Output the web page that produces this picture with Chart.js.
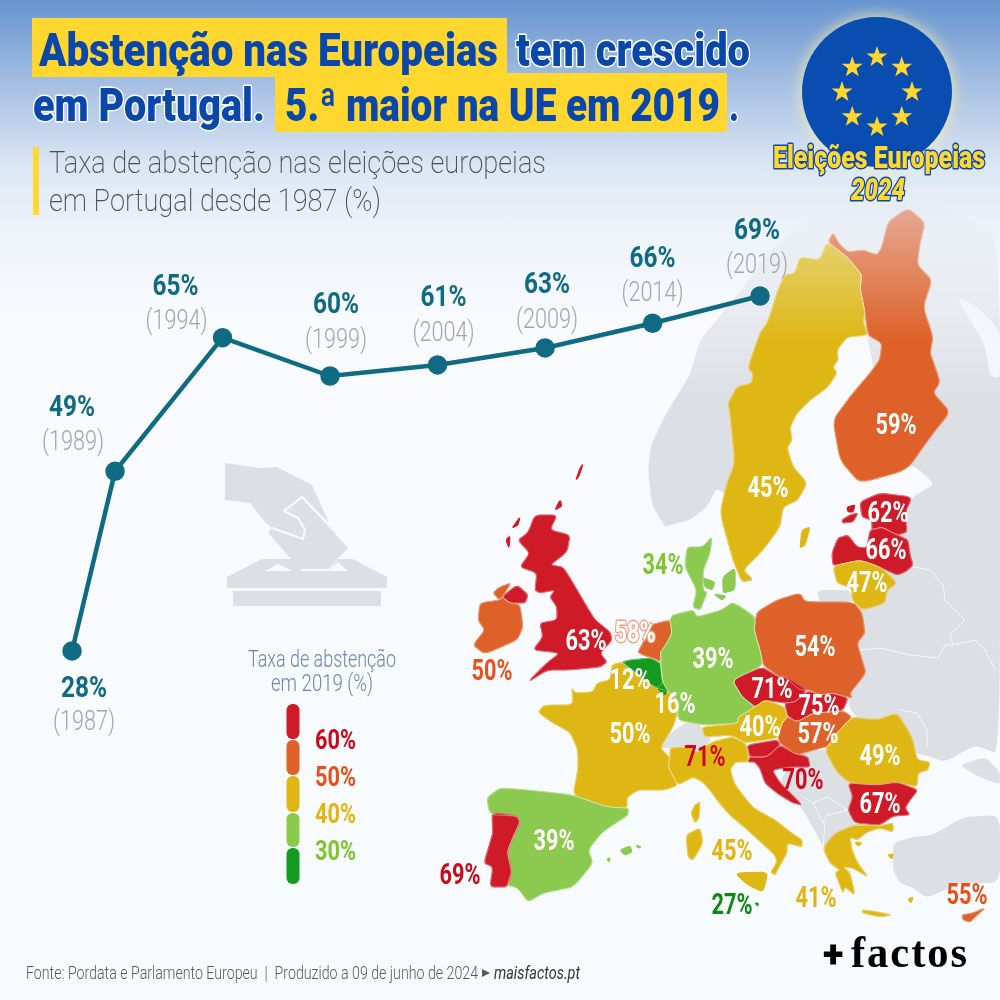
<!DOCTYPE html>
<html lang="pt">
<head>
<meta charset="utf-8">
<title>Abstenção nas Europeias</title>
<script src="https://cdn.jsdelivr.net/npm/chart.js@4"></script>
<style>
    html, body { margin: 0; padding: 0; width: 1000px; height: 1000px; overflow: hidden; }
    body { background: linear-gradient(180deg, #6694d0 0px, #a9c2e4 90px, #dbe6f4 165px, #eef3fa 230px, #f8fafe 320px, #f8fbfe 1000px); }
    canvas { display: block; }
</style>
</head>
<body>
<canvas id="chart" width="1000" height="1000"></canvas>
<script>
// Chart data
const years = [1987, 1989, 1994, 1999, 2004, 2009, 2014, 2019];
const absenceRates = [27.6, 48.7, 64.4, 59.9, 61.2, 63.2, 66.1, 69.3];
const rateLabels = ['28%', '49%', '65%', '60%', '61%', '63%', '66%', '69%'];
const yearLabels = ['(1987)', '(1989)', '(1994)', '(1999)', '(2004)', '(2009)', '(2014)', '(2019)'];

// Map data, same order in both arrays
const mapCountries = ['FI', 'SE', 'EE', 'LV', 'LT', 'PL', 'CZ', 'SK', 'HU', 'AT', 'SI', 'HR', 'RO', 'BG', 'GR', 'CY', 'IT', 'MT', 'FR', 'BE', 'LU', 'NL', 'DE', 'DK', 'UK', 'IE', 'ES', 'PT'];
const mapRates = [59, 45, 62, 66, 47, 54, 71, 75, 57, 40, 71, 70, 49, 67, 41, 55, 45, 27, 49.9, 12, 16, 58, 39, 34, 63, 50.3, 39, 69];

// Legend
const legendLabels = ['60%', '50%', '40%', '30%'];

// Colours
const TEAL = '#0f6a82';
const BLUE = '#0a47ab';
const YELLOW = '#ffd72e';
const LAND = '#dcdfe3';
const bandColors = ['#cf1a28', '#dd6129', '#dfb715', '#8bc94f', '#149a1e'];
const legendTextColors = ['#cc0a1c', '#e8501a', '#e3b30f', '#7fc52e'];
const BOLD = 'Roboto, sans-serif';
const THIN = 'Roboto, sans-serif';

// Where each value label sits relative to its point
const valueOffsets = [[12, 36], [-43, -65], [-47, -53], [6, -73], [6, -69], [2, -65], [0, -66], [-3, -67]];
const yearOffsets = [[12, 69], [-42, -31], [-46, -19], [6, -38], [6, -34], [2, -30], [0, -32], [-3, -33]];

// Country label positions and colours on the map
const mapLabelPos = {
    FI: [896, 424], SE: [768, 487], EE: [888, 512], LV: [886, 549], LT: [867, 582], PL: [815, 646],
    CZ: [772, 688], SK: [819, 705], HU: [818, 733], AT: [760, 726], SI: [705, 756], HR: [803, 779],
    RO: [880, 755], BG: [880, 803], GR: [816, 897], CY: [967, 894], IT: [732, 850], MT: [732, 904],
    FR: [630, 733], BE: [630, 679], LU: [675, 703], NL: [635, 632], DE: [713, 658], DK: [663, 564],
    UK: [586, 640], IE: [492, 670], ES: [554, 840], PT: [460, 874]
};
const mapLabelColor = {
    SI: '#cc0a1c', HR: '#cc0a1c', PT: '#cc0a1c', IE: '#e8501a', CY: '#e8501a',
    DK: '#7fc52e', GR: '#e3b30f', IT: '#e3b30f', MT: '#0a8a14'
};

// Map outlines, illustration only
const landShapes = [
    [[665,527],[652,505],[648,470],[651,445],[668,410],[690,375],[700,340],[725,310],[745,285],[770,250],[800,225],[835,210],[880,205],[925,200],[960,215],[1000,235],[1000,755],[975,745],[945,762],[925,755],[900,750],[880,740],[845,705],[860,600],[880,570],[905,520],[912,497],[935,484],[913,465],[880,470],[880,400],[860,300],[830,270],[800,350],[770,450],[740,510],[717,487],[707,507],[690,520],[670,525]],
    [[817,590],[850,590],[852,603],[820,604]],
    [[780,780],[800,750],[860,750],[865,825],[850,835],[825,850],[817,835],[802,808],[790,797]],
    [[893,843],[913,837],[933,835],[963,817],[1000,815],[1000,883],[960,883],[927,898],[913,888],[900,883],[893,870]],
    [[960,765],[985,757],[1000,772],[1000,785],[975,775]],
    [[660,748],[670,733],[687,722],[700,725],[712,740],[697,753],[687,747],[670,748]]
];
const whiteSea = [[957,298],[975,305],[1000,330],[1000,378],[990,376],[985,345],[970,320]];
// Pale borders of the countries outside the EU
const landBorders = [
    [[913,567],[930,570],[943,585],[945,600],[965,620],[950,635],[953,645],[975,640],[985,650],[995,670]],
    [[860,650],[880,648],[910,655],[938,658],[945,645],[953,645]],
    [[900,710],[917,713],[927,730],[927,747]],
    [[803,797],[813,803],[827,797],[837,803],[847,810]],
    [[813,803],[823,823],[827,815],[850,810]],
    [[825,823],[823,848]]
];
const countryShapes = {
    FI: [[[833,233],[840,245],[848,252],[863,250],[877,255],[882,247],[888,222],[908,208],[925,223],[920,243],[917,265],[932,280],[923,307],[933,337],[930,353],[935,367],[940,382],[933,393],[950,412],[933,433],[907,470],[860,483],[840,460],[833,420],[850,397],[867,377],[880,360],[882,343],[868,335],[865,313],[860,288],[862,275],[847,257],[828,242]]],
    SE: [[[827,242],[847,257],[862,275],[860,288],[865,313],[863,322],[868,335],[847,337],[837,350],[838,360],[833,367],[837,373],[828,387],[810,400],[797,413],[790,427],[792,440],[787,448],[793,467],[807,483],[798,500],[783,507],[780,527],[763,550],[743,570],[753,580],[742,582],[733,560],[720,513],[727,483],[735,463],[730,413],[728,403],[737,387],[752,383],[753,373],[748,368],[760,333],[768,322],[778,290],[785,275],[795,273],[800,257],[820,260]],
        [[802,530],[810,527],[805,545],[800,548]]],
    EE: [[[860,502],[880,493],[912,497],[905,513],[907,532],[897,535],[882,527],[872,530],[872,520],[862,517]],
        [[842,520],[850,515],[858,513],[853,522],[843,523]],
        [[847,507],[855,505],[853,512],[848,512]]],
    LV: [[[870,530],[882,527],[897,535],[908,540],[910,555],[913,565],[905,572],[897,575],[880,567],[860,560],[833,566],[832,553],[838,538],[848,535],[857,547],[867,548]]],
    LT: [[[833,566],[860,560],[880,567],[897,583],[887,590],[885,603],[863,610],[852,600],[852,588],[837,583]]],
    PL: [[[757,612],[777,600],[800,593],[805,602],[853,602],[862,613],[865,633],[857,643],[862,660],[866,673],[850,693],[852,698],[832,693],[820,695],[810,690],[800,690],[785,677],[780,677],[763,665],[760,650],[754,630]]],
    CZ: [[[732,680],[762,667],[778,677],[787,677],[807,690],[795,702],[785,703],[765,700],[755,707],[742,697]]],
    SK: [[[808,691],[820,695],[832,693],[848,698],[843,710],[830,712],[813,713],[797,722],[787,715],[785,703],[795,702]]],
    HU: [[[787,717],[797,722],[813,713],[843,711],[852,717],[837,733],[832,745],[807,752],[797,755],[780,743],[778,737],[782,723]]],
    AT: [[[738,717],[755,707],[765,700],[785,707],[787,717],[782,723],[778,738],[745,743],[732,735],[705,737],[702,727],[725,725],[738,723]]],
    SI: [[[747,745],[777,740],[780,745],[767,757],[750,757]]],
    HR: [[[767,757],[780,745],[793,753],[808,757],[810,767],[790,767],[772,770],[780,783],[802,805],[793,803],[777,793],[765,783],[760,768],[755,762],[748,762],[750,757]]],
    RO: [[[825,750],[837,733],[852,717],[877,720],[897,713],[912,737],[917,760],[930,762],[928,770],[918,773],[917,787],[897,782],[877,785],[850,783],[837,772]]],
    BG: [[[848,783],[877,785],[897,782],[918,790],[910,800],[905,808],[910,815],[893,816],[880,825],[855,823],[848,810],[853,797]]],
    GR: [[[823,848],[835,833],[855,825],[880,826],[893,823],[893,832],[880,828],[867,832],[857,840],[850,837],[852,850],[857,862],[868,877],[853,868],[843,867],[850,873],[855,895],[845,887],[843,893],[835,873],[840,870],[830,863]],
        [[862,910],[873,911],[892,915],[880,917],[863,913]],
        [[908,899],[913,897],[911,903]],
        [[888,855],[893,854],[892,859]],
        [[855,842],[862,843],[858,846]]],
    CY: [[[962,915],[973,913],[985,908],[977,915],[970,922],[963,920]]],
    IT: [[[670,758],[668,767],[678,785],[693,777],[703,782],[710,790],[717,800],[730,815],[750,832],[775,855],[777,862],[771,872],[775,875],[780,865],[787,853],[787,843],[802,847],[802,840],[790,832],[775,820],[753,808],[735,785],[730,770],[735,762],[748,762],[748,752],[745,743],[732,737],[712,742],[697,753],[687,747],[670,748]],
        [[735,873],[768,872],[763,892],[748,885]],
        [[686,835],[700,828],[703,843],[693,860],[688,857]],
        [[695,805],[700,802],[699,818],[695,823],[691,813]]],
    MT: [[[755,903],[758,903],[758,906]]],
    FR: [[[612,665],[622,662],[640,677],[655,688],[665,690],[678,700],[678,710],[673,727],[660,748],[670,758],[668,767],[678,785],[665,790],[647,790],[638,790],[627,797],[627,808],[607,807],[573,795],[578,770],[578,750],[570,732],[553,723],[538,712],[545,705],[573,705],[572,688],[575,693],[593,692],[597,683],[610,680]]],
    BE: [[[622,662],[630,660],[650,658],[660,663],[662,673],[663,683],[657,688],[648,682]]],
    LU: [[[657,688],[663,683],[667,690],[665,695]]],
    NL: [[[638,652],[643,643],[650,625],[670,620],[672,633],[667,643],[660,653],[662,662],[653,658],[643,655]]],
    DE: [[[673,615],[693,610],[697,617],[722,610],[733,602],[755,617],[754,630],[760,650],[763,665],[732,680],[742,697],[755,707],[738,717],[738,723],[703,725],[678,720],[678,700],[667,690],[662,680],[660,653],[667,643],[672,633],[670,620]]],
    DK: [[[693,607],[697,590],[685,567],[687,547],[703,547],[712,537],[710,553],[703,570],[703,590],[707,593],[700,610]],
        [[723,577],[735,568],[735,590],[723,593]],
        [[703,578],[715,582],[712,590],[705,587]],
        [[714,594],[726,596],[722,600]]],
    UK: [[[535,515],[557,515],[550,530],[570,535],[567,552],[550,565],[563,567],[573,583],[587,607],[595,620],[610,632],[612,640],[600,653],[607,662],[600,667],[570,670],[547,670],[528,682],[547,663],[560,653],[533,650],[543,637],[540,623],[557,620],[557,607],[550,597],[555,590],[540,593],[535,590],[537,573],[520,567],[530,553],[518,540],[528,533]],
        [[512,528],[520,517],[518,525]],
        [[506,540],[510,536],[509,548]],
        [[576,480],[580,468],[583,464],[579,476]],
        [[555,510],[560,500],[562,506]],
        [[502,597],[517,585],[528,595],[525,603],[510,603]]],
    IE: [[[480,603],[500,600],[502,597],[510,603],[520,605],[523,627],[517,640],[485,654],[473,645],[485,630],[478,620]],
        [[493,593],[500,587],[511,583],[502,597],[500,600]]],
    ES: [[[487,798],[500,788],[527,790],[573,795],[607,807],[628,808],[628,815],[602,832],[588,850],[593,863],[573,887],[543,893],[528,902],[518,888],[507,885],[512,872],[507,852],[513,837],[520,822],[517,816],[493,815],[489,810]],
        [[620,850],[630,846],[632,852],[625,855]],
        [[636,845],[641,847],[638,848]],
        [[607,859],[610,858],[609,862]]],
    PT: [[[492,815],[497,813],[517,816],[520,822],[513,837],[507,852],[512,872],[507,887],[490,887],[493,867],[484,863],[490,843],[493,833]]]
};
// Top of Scandinavia fades into the background
const fadeTop = { FI: ['#e6ab95', 205, 340], SE: ['#e4d170', 240, 340] };

// Ballot icon
const ballotSilhouette = [[225,463],[260,468],[277,467],[312,485],[329,523],[302,497],[348,548],[328,569],[300,569],[268,533],[272,528],[265,522],[250,503],[225,500]];
const ballotFold = [[329,525],[302,497],[284,511],[298,518],[305,530],[303,539],[272,528]];
const ballotBox = [[227,577],[262,559],[292,559],[302,571],[328,571],[338,559],[353,559],[387,577],[387,588],[227,588]];

function bandFor(rate) {
    if (rate >= 60) return 0;
    if (rate >= 50) return 1;
    if (rate >= 40) return 2;
    if (rate >= 30) return 3;
    return 4;
}

function tracePolygon(ctx, pts) {
    ctx.beginPath();
    pts.forEach((p, i) => i === 0 ? ctx.moveTo(p[0], p[1]) : ctx.lineTo(p[0], p[1]));
    ctx.closePath();
}

function tracePolyline(ctx, pts) {
    ctx.beginPath();
    pts.forEach((p, i) => i === 0 ? ctx.moveTo(p[0], p[1]) : ctx.lineTo(p[0], p[1]));
}

// Same as tracePolygon but takes the sharp corners off, coastlines look less like a polygon
function traceRounded(ctx, pts) {
    const n = pts.length;
    const cut = 0.25;
    ctx.beginPath();
    for (let i = 0; i < n; i++) {
        const prev = pts[(i + n - 1) % n];
        const cur = pts[i];
        const next = pts[(i + 1) % n];
        const ax = cur[0] + (prev[0] - cur[0]) * cut;
        const ay = cur[1] + (prev[1] - cur[1]) * cut;
        const bx = cur[0] + (next[0] - cur[0]) * cut;
        const by = cur[1] + (next[1] - cur[1]) * cut;
        if (i === 0) ctx.moveTo(ax, ay); else ctx.lineTo(ax, ay);
        ctx.quadraticCurveTo(cur[0], cur[1], bx, by);
    }
    ctx.closePath();
}

function drawText(ctx, text, x, y, font, color, maxWidth, align, halo, haloWidth) {
    ctx.font = font;
    ctx.textAlign = align || 'center';
    ctx.textBaseline = 'alphabetic';
    if (halo) {
        ctx.strokeStyle = halo;
        ctx.lineWidth = haloWidth || 3;
        ctx.lineJoin = 'round';
        ctx.strokeText(text, x, y, maxWidth);
    }
    ctx.fillStyle = color;
    ctx.fillText(text, x, y, maxWidth);
}

function drawStar(ctx, cx, cy, r) {
    ctx.beginPath();
    for (let i = 0; i < 10; i++) {
        const a = -Math.PI / 2 + i * Math.PI / 5;
        const d = i % 2 === 0 ? r : r * 0.4;
        ctx.lineTo(cx + d * Math.cos(a), cy + d * Math.sin(a));
    }
    ctx.closePath();
    ctx.fill();
}

function drawMap(ctx) {
    // Grey land behind the EU
    const landFill = ctx.createLinearGradient(0, 195, 0, 400);
    landFill.addColorStop(0, 'rgba(220,223,227,0)');
    landFill.addColorStop(1, LAND);
    ctx.fillStyle = landFill;
    landShapes.forEach(shape => { traceRounded(ctx, shape); ctx.fill(); });
    ctx.fillStyle = '#f3f6fb';
    traceRounded(ctx, whiteSea);
    ctx.fill();
    ctx.strokeStyle = 'rgba(255,255,255,0.8)';
    ctx.lineWidth = 1;
    landBorders.forEach(line => { tracePolyline(ctx, line); ctx.stroke(); });

    ctx.lineJoin = 'round';
    mapCountries.forEach((code, i) => {
        let fill = bandColors[bandFor(mapRates[i])];
        if (fadeTop[code]) {
            const g = ctx.createLinearGradient(0, fadeTop[code][1], 0, fadeTop[code][2]);
            g.addColorStop(0, fadeTop[code][0]);
            g.addColorStop(1, fill);
            fill = g;
        }
        countryShapes[code].forEach(shape => {
            traceRounded(ctx, shape);
            ctx.fillStyle = fill;
            ctx.strokeStyle = fill;
            ctx.lineWidth = 1.2;
            ctx.fill();
            ctx.stroke();
        });
    });
    // Thin pale borders go on after all the fills
    ctx.strokeStyle = 'rgba(255,255,255,0.45)';
    ctx.lineWidth = 0.8;
    mapCountries.forEach(code => {
        countryShapes[code].forEach(shape => {
            if (shape.length > 4) { traceRounded(ctx, shape); ctx.stroke(); }
        });
    });
}

function drawBallot(ctx) {
    ctx.fillStyle = LAND;
    [ballotSilhouette, ballotBox].forEach(shape => { tracePolygon(ctx, shape); ctx.fill(); });
    ctx.fillRect(233, 591, 148, 15);
    ctx.fillStyle = '#f8fafe';
    tracePolygon(ctx, [[265,571],[278,564],[292,571]]);
    ctx.fill();
    tracePolygon(ctx, [[328,571],[338,562],[348,571]]);
    ctx.fill();
    ctx.strokeStyle = '#f8fafe';
    ctx.lineWidth = 2.2;
    ctx.lineJoin = 'round';
    tracePolyline(ctx, ballotFold);
    ctx.stroke();
}

function drawHeader(ctx) {
    ctx.fillStyle = YELLOW;
    ctx.fillRect(32, 18, 475, 59);
    ctx.fillRect(275, 73, 452, 59);

    const titleFont = `900 46px ${BOLD}`;
    drawText(ctx, 'Abstenção nas Europeias', 39, 66, titleFont, BLUE, 459, 'left');
    drawText(ctx, 'tem crescido', 516, 66, titleFont, BLUE, 234, 'left', '#ffffff', 3);
    drawText(ctx, 'em Portugal.', 33, 121, titleFont, BLUE, 232, 'left', '#ffffff', 3);
    drawText(ctx, '5.ª maior na UE em 2019', 285, 121, titleFont, BLUE, 435, 'left');
    drawText(ctx, '.', 729, 121, titleFont, BLUE, 10, 'left', '#ffffff', 3);

    // Subtitle
    ctx.fillStyle = YELLOW;
    ctx.fillRect(33, 147, 6, 68);
    const subFont = `200 31px ${THIN}`;
    drawText(ctx, 'Taxa de abstenção nas eleições europeias', 49, 173, subFont, '#4d4f52', 497, 'left');
    drawText(ctx, 'em Portugal desde 1987 (%)', 49, 211, subFont, '#4d4f52', 332, 'left');
}

function drawEuBadge(ctx) {
    ctx.save();
    ctx.shadowColor = 'rgba(255,240,170,0.9)';
    ctx.shadowBlur = 16;
    ctx.fillStyle = '#0a4db0';
    ctx.beginPath();
    ctx.arc(877, 92, 75, 0, Math.PI * 2);
    ctx.fill();
    ctx.restore();
    ctx.fillStyle = YELLOW;
    for (let i = 0; i < 8; i++) {
        const a = i * Math.PI / 4;
        drawStar(ctx, 877 + 35 * Math.sin(a), 92 - 35 * Math.cos(a), 11);
    }
    drawText(ctx, 'Eleições Europeias', 879, 168, `900 32px ${BOLD}`, YELLOW, 212, 'center', BLUE, 3);
    drawText(ctx, '2024', 878, 200, `italic 900 32px ${BOLD}`, YELLOW, 54, 'center', BLUE, 3);
}

function drawLegend(ctx) {
    drawText(ctx, 'Taxa de abstenção', 322, 667, `300 23px ${THIN}`, '#6d86a8', 148);
    drawText(ctx, 'em 2019 (%)', 322, 691, `300 23px ${THIN}`, '#6d86a8', 102);
    const tops = [704, 740, 776, 813, 848];
    const bottoms = [739, 775, 812, 847, 884];
    bandColors.forEach((color, i) => {
        ctx.fillStyle = color;
        ctx.beginPath();
        ctx.roundRect(286.5, tops[i], 13, bottoms[i] - tops[i], 6);
        ctx.fill();
    });
    const labelY = [749, 786, 823, 860];
    legendLabels.forEach((label, i) => {
        drawText(ctx, label, 335.5, labelY[i], `bold 28px ${BOLD}`, legendTextColors[i], 41);
    });
}

function drawFooter(ctx) {
    drawText(ctx, 'Fonte: Pordata e Parlamento Europeu  |  Produzido a 09 de junho de 2024', 26, 979, `300 18px ${THIN}`, '#55585c', 452, 'left');
    ctx.fillStyle = '#55585c';
    tracePolygon(ctx, [[482,969],[490,973],[482,977]]);
    ctx.fill();
    drawText(ctx, 'maisfactos.pt', 494, 979, `italic 18px ${THIN}`, '#333333', 86, 'left');
    drawText(ctx, '+', 823, 967, `900 38px ${BOLD}`, '#000000', 22, 'left');
    ctx.letterSpacing = '2px';
    drawText(ctx, 'factos', 851, 967, 'bold 44px "Liberation Serif", serif', '#000000', 118, 'left');
    ctx.letterSpacing = '0px';
}

// Everything around the line, painted on the same canvas
const infographicPlugin = {
    id: 'infographic',
    beforeDatasetsDraw(chart) {
        const ctx = chart.ctx;
        ctx.save();
        drawMap(ctx);
        drawBallot(ctx);
        drawHeader(ctx);
        drawEuBadge(ctx);
        drawLegend(ctx);
        drawFooter(ctx);
        ctx.restore();
    },
    afterDatasetsDraw(chart) {
        const ctx = chart.ctx;
        const points = chart.getDatasetMeta(0).data;
        ctx.save();
        // Line labels
        points.forEach((pt, i) => {
            drawText(ctx, rateLabels[i], pt.x + valueOffsets[i][0], pt.y + valueOffsets[i][1] + 10, `bold 29px ${BOLD}`, TEAL, 46);
            drawText(ctx, yearLabels[i], pt.x + yearOffsets[i][0], pt.y + yearOffsets[i][1] + 10, `300 28px ${THIN}`, '#a3a6aa', 62);
        });
        // Map labels
        mapCountries.forEach((code, i) => {
            const pos = mapLabelPos[code];
            const color = mapLabelColor[code] || '#ffffff';
            const halo = code === 'NL' ? '#eda386' : null;
            drawText(ctx, Math.round(mapRates[i]) + '%', pos[0], pos[1] + 10, `bold 29px ${BOLD}`, color, 41, 'center', halo, 3);
        });
        ctx.restore();
    }
};

const chart = new Chart(document.getElementById('chart').getContext('2d'), {
    type: 'line',
    data: {
        datasets: [{
            label: 'Taxa de abstenção',
            data: years.map((year, i) => ({ x: year, y: absenceRates[i] })),
            borderColor: TEAL,
            borderWidth: 4.5,
            backgroundColor: TEAL,
            pointBackgroundColor: TEAL,
            pointBorderColor: TEAL,
            pointRadius: 7.5,
            tension: 0,
            fill: false
        }]
    },
    options: {
        responsive: false,
        animation: false,
        devicePixelRatio: 1,
        layout: { padding: 0, autoPadding: false },
        plugins: { legend: { display: false }, tooltip: { enabled: false } },
        scales: {
            x: { type: 'linear', display: false, min: 1983.65, max: 2030.16 },
            y: { type: 'linear', display: false, min: -13.4, max: 104.07 }
        }
    },
    plugins: [infographicPlugin]
});
</script>
</body>
</html>
